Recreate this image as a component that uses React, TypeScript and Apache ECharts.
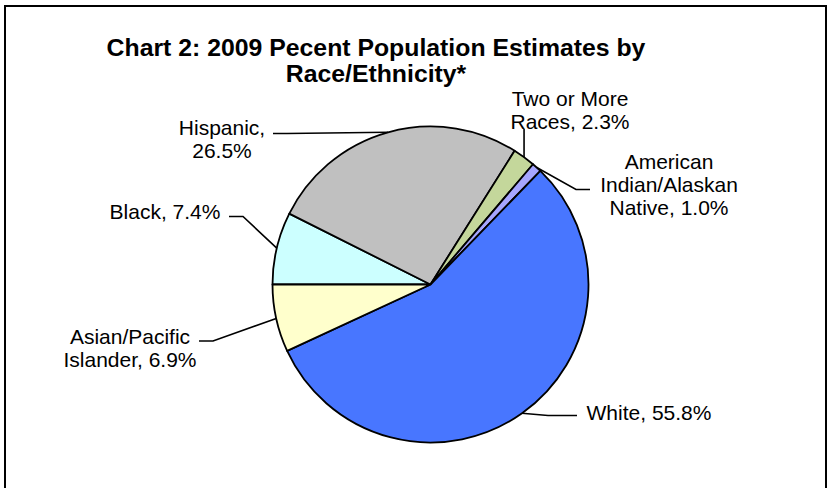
import React, { useEffect, useRef } from "react";
import * as echarts from "echarts";

// ---- data ----
const categories = [
  "Black",
  "Hispanic",
  "Two or More Races",
  "American Indian/Alaskan Native",
  "White",
  "Asian/Pacific Islander",
];
const values = [7.4, 26.5, 2.3, 1.0, 55.8, 6.9];
// how each category name is broken in the label
const labelNames = [
  "Black,",
  "Hispanic,\n",
  "Two or More\nRaces,",
  "American\nIndian/Alaskan\nNative,",
  "White,",
  "Asian/Pacific\nIslander,",
];
const titleLines = ["Chart 2: 2009 Pecent Population Estimates by", "Race/Ethnicity*"];

// ---- styling / layout ----
const colors = ["#CCFFFF", "#C0C0C0", "#C4D79B", "#A6A6FF", "#4876FF", "#FFFFCC"];
const FONT = "'Liberation Sans', Arial, sans-serif";
// label centre positions and leader knees (layout only)
const labelPos: [number, number][] = [
  [165, 211],
  [222, 139],
  [570, 110],
  [669, 184],
  [649, 412],
  [130, 348],
];
const leaderKnees: [number, number][][] = [
  [[243, 216.5], [229, 216.5]],
  [[287, 133.5], [273, 133.5]],
  [[0, 136], [0, 129]],
  [[576, 189.5], [590, 189.5]],
  [[548, 415.5], [577, 415.5]],
  [[213, 341], [199, 341]],
];

export default function App() {
  const ref = useRef<HTMLDivElement>(null);
  useEffect(() => {
    if (!ref.current) return;
    const chart = echarts.init(ref.current, undefined, { renderer: "svg" });
    const data = categories.map((name, i) => ({
      name,
      value: values[i],
      itemStyle: { color: colors[i] },
      label: {
        formatter: () =>
          labelNames[i] + (labelNames[i].endsWith("\n") ? "" : " ") + values[i].toFixed(1) + "%",
      },
    }));
    chart.setOption({
      animation: false,
      backgroundColor: "#ffffff",
      graphic: [
        {
          type: "rect",
          shape: { x: 5, y: 6, width: 821, height: 490 },
          style: { fill: "none", stroke: "#000", lineWidth: 2 },
          silent: true,
        },
        {
          type: "text",
          x: 376,
          y: 60,
          style: {
            text: titleLines.join("\n"),
            fill: "#000",
            font: `bold 24.8px ${FONT}`,
            lineHeight: 26,
            align: "center",
            verticalAlign: "middle",
          },
        },
      ],
      series: [
        {
          type: "pie",
          center: [430.5, 284.5],
          radius: 158,
          startAngle: 180,
          clockwise: true,
          data,
          itemStyle: { borderColor: "#000", borderWidth: 1.8 },
          emphasis: { disabled: true },
          label: {
            show: true,
            position: "outside",
            color: "#000",
            fontFamily: FONT,
            fontSize: 21,
            lineHeight: 23,
            align: "center",
          },
          labelLine: {
            show: true,
            length: 10,
            length2: 10,
            lineStyle: { color: "#000", width: 1.6 },
          },
          labelLayout: (params: any) => {
            const i = params.dataIndex;
            const p0 = params.labelLinePoints ? params.labelLinePoints[0] : [0, 0];
            const knees = leaderKnees[i].map((k, j) =>
              i === 2 ? [p0[0], k[1]] : k
            );
            return {
              x: labelPos[i][0],
              y: labelPos[i][1],
              align: "center",
              verticalAlign: "middle",
              labelLinePoints: [p0, knees[0], knees[1]],
            };
          },
        },
      ],
    });
    return () => chart.dispose();
  }, []);
  return (
    <div
      ref={ref}
      style={{ position: "fixed", left: 0, top: 0, width: 831, height: 488 }}
    />
  );
}
